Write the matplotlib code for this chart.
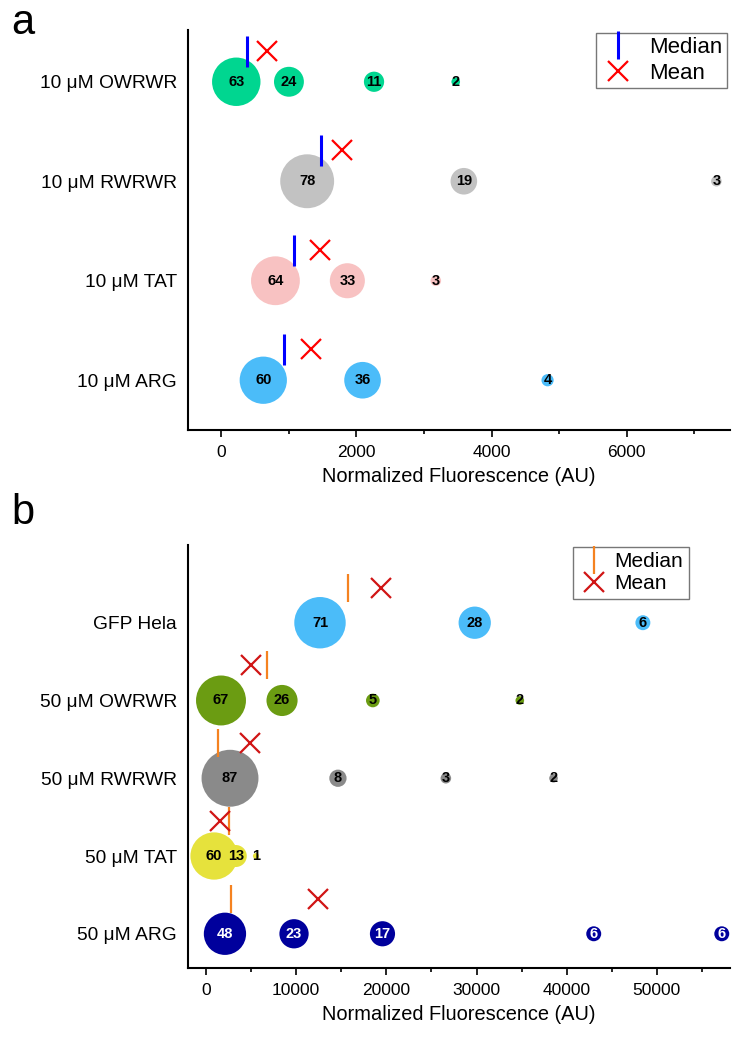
import numpy as np
import matplotlib
matplotlib.use("Agg")
import matplotlib.pyplot as plt
from matplotlib.lines import Line2D

plt.rcParams['font.family'] = ['Liberation Sans', 'DejaVu Sans']

# --- panel a data ---
a_labels = ["10 μM OWRWR", "10 μM RWRWR", "10 μM TAT", "10 μM ARG"]
a_bins = [[220, 1000, 2260, 3470],
          [1270, 3590, 7330],
          [800, 1865, 3175],
          [620, 2090, 4830]]
a_counts = [[63, 24, 11, 2],
            [78, 19, 3],
            [64, 33, 3],
            [60, 36, 4]]
a_median = [385, 1480, 1080, 920]
a_mean = [675, 1785, 1465, 1320]
a_colors = ["#00d690", "#c2c2c2", "#f8c2c2", "#4bbcf9"]
a_text = ["black", "black", "black", "black"]

# --- panel b data ---
b_labels = ["GFP Hela", "50 μM OWRWR", "50 μM RWRWR", "50 μM TAT", "50 μM ARG"]
b_bins = [[12640, 29800, 48450],
          [1660, 8430, 18500, 34800],
          [2660, 14630, 26600, 38540],
          [890, 3300, 5540],
          [2100, 9760, 19570, 43000, 57200]]
b_counts = [[71, 28, 6],
            [67, 26, 5, 2],
            [87, 8, 3, 2],
            [60, 13, 1],
            [48, 23, 17, 6, 6]]
b_median = [15740, 6760, 1275, 2550, 2770]
b_mean = [19400, 5000, 4880, 1550, 12400]
b_colors = ["#4bbcf9", "#6b9c12", "#8a8a8a", "#e6e23c", "#00009c"]
b_text = ["black", "black", "black", "black", "white"]

fig = plt.figure(figsize=(7.41, 10.5), dpi=100)


def draw_panel(ax, labels, bins, counts, medians, means, colors, tcolors,
               med_color, mean_color, med_span, mean_off, med_lw):
    n = len(labels)
    ys = np.arange(n, 0, -1)
    for y, xs, cs, col in zip(ys, bins, counts, colors):
        ax.scatter(xs, [y] * len(xs), s=np.array(cs) * 19.3, color=col,
                   edgecolors='none', zorder=2)
    for y, xs, cs, tc in zip(ys, bins, counts, tcolors):
        for x, c in zip(xs, cs):
            ax.text(x, y, str(c), ha='center', va='center', fontsize=10.5,
                    fontweight='bold', color=tc, zorder=4)
    ax.vlines(medians, ys + med_span[0], ys + med_span[1], color=med_color,
              lw=med_lw, zorder=3)
    ax.plot(means, ys + mean_off, ls='none', marker='x', ms=14, mew=1.6,
            color=mean_color, zorder=3)
    ax.set_yticks(ys)
    ax.set_yticklabels(labels, fontsize=13.8)
    ax.tick_params(axis='y', length=0, pad=8)
    ax.tick_params(axis='x', which='major', length=5, width=1.2, labelsize=12.5, pad=6)
    ax.tick_params(axis='x', which='minor', length=3, width=1.2)
    for s in ['top', 'right']:
        ax.spines[s].set_visible(False)
    for s in ['left', 'bottom']:
        ax.spines[s].set_linewidth(1.5)
    ax.set_xlabel("Normalized Fluorescence (AU)", fontsize=14.4, labelpad=5)
    handles = [Line2D([], [], ls='none', marker='|', ms=20, mew=med_lw, color=med_color),
               Line2D([], [], ls='none', marker='x', ms=15, mew=1.6, color=mean_color)]
    return handles


ax1 = fig.add_axes([0.2537, 0.5905, 0.7313, 0.3809])
h = draw_panel(ax1, a_labels, a_bins, a_counts, a_median, a_mean, a_colors, a_text,
               "#0000ff", "#ff0000", (0.15, 0.46), 0.31, 2.2)
ax1.set_xlim(-495, 7530)
ax1.set_ylim(0.5, 4.52)
ax1.set_xticks([0, 2000, 4000, 6000])
ax1.set_xticks([1000, 3000, 5000, 7000], minor=True)
leg1 = ax1.legend(h, ["Median", "Mean"], loc='upper right', bbox_to_anchor=(0.994, 0.993),
                  borderaxespad=0, fontsize=16, frameon=True, fancybox=False,
                  edgecolor='#555555', handlelength=1.6, handletextpad=0.6,
                  borderpad=0.2, labelspacing=0.2)
leg1.get_frame().set_linewidth(1.0)

ax2 = fig.add_axes([0.2537, 0.0781, 0.7313, 0.4029])
h = draw_panel(ax2, b_labels, b_bins, b_counts, b_median, b_mean, b_colors, b_text,
               "#f58220", "#d01515", (0.27, 0.63), 0.45, 1.6)
ax2.set_xlim(-2000, 58100)
ax2.set_ylim(0.56, 6.0)
ax2.set_xticks([0, 10000, 20000, 30000, 40000, 50000])
ax2.set_xticks([5000, 15000, 25000, 35000, 45000, 55000], minor=True)
leg2 = ax2.legend(h, ["Median", "Mean"], loc='upper right', bbox_to_anchor=(0.924, 0.995),
                  borderaxespad=0, fontsize=15, frameon=True, fancybox=False,
                  edgecolor='#555555', handlelength=1.5, handletextpad=0.25,
                  borderpad=0.25, labelspacing=0.15)
leg2.get_frame().set_linewidth(1.0)

fig.text(0.015, 0.997, "a", fontsize=30, va='top', ha='left')
fig.text(0.015, 0.53, "b", fontsize=30, va='top', ha='left')

fig.savefig("out.png", dpi=100)
